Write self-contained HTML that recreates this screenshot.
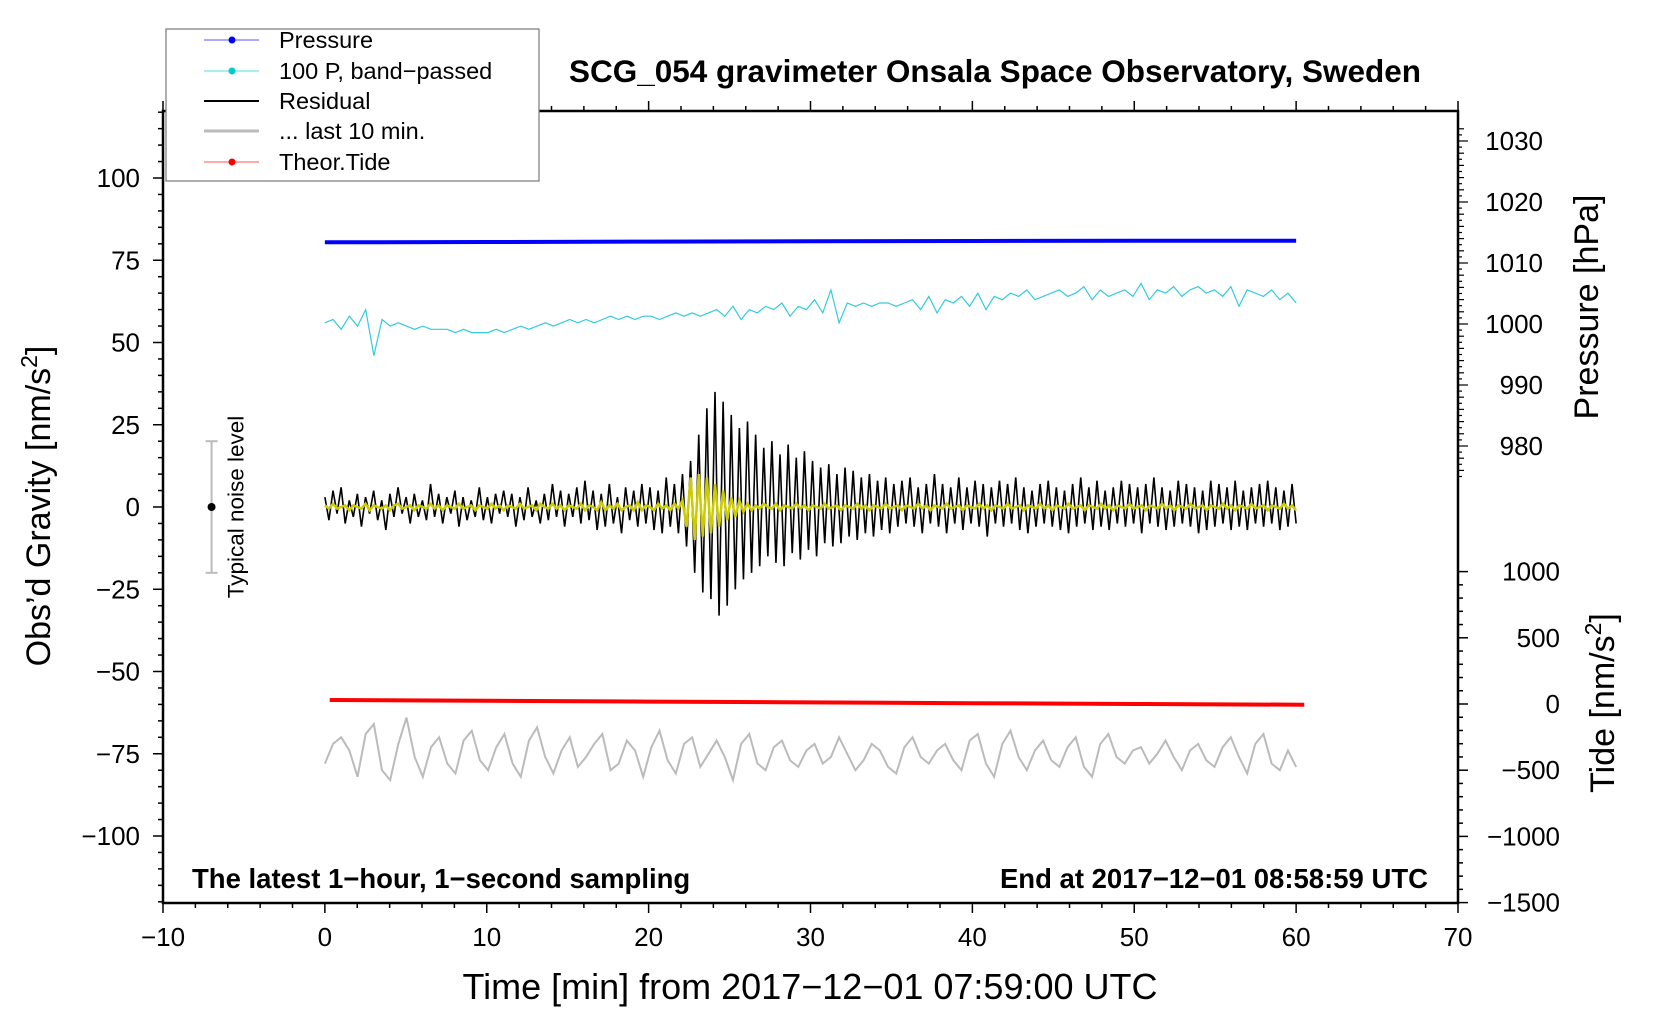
<!DOCTYPE html>
<html><head><meta charset="utf-8"><style>
body{margin:0;background:#fff;}
svg{display:block;font-family:"Liberation Sans",Arial,sans-serif;}
</style></head><body>
<svg id="chart" width="1660" height="1020" viewBox="0 0 1660 1020">
<defs><clipPath id="pc"><rect x="163" y="111" width="1295" height="792"/></clipPath></defs>
<rect x="163" y="111" width="1295" height="792" fill="#fff"/>
<g id="ticks"></g>
<g id="series" clip-path="url(#pc)"></g>
<rect x="163" y="111" width="1295" height="792" fill="none" stroke="#000" stroke-width="2.5"/>
<text x="995" y="82" text-anchor="middle" font-size="31.5" font-weight="bold">SCG_054 gravimeter Onsala Space Observatory, Sweden</text>
<text x="192" y="888" font-size="27.5" font-weight="bold">The latest 1−hour, 1−second sampling</text>
<text x="1428" y="888" text-anchor="end" font-size="27.5" font-weight="bold">End at 2017−12−01 08:58:59 UTC</text>
<text transform="translate(50,506) rotate(-90)" text-anchor="middle" font-size="34">Obs’d Gravity [nm/s<tspan dy="-13" font-size="23">2</tspan><tspan dy="13">]</tspan></text>
<text transform="translate(1598,307) rotate(-90)" text-anchor="middle" font-size="34">Pressure [hPa]</text>
<text transform="translate(1614,703) rotate(-90)" text-anchor="middle" font-size="34">Tide [nm/s<tspan dy="-13" font-size="23">2</tspan><tspan dy="13">]</tspan></text>
<text x="810" y="999" text-anchor="middle" font-size="36">Time [min] from 2017−12−01 07:59:00 UTC</text>
<g id="noise"></g>
<g>
<rect x="166" y="29" width="373" height="152" fill="#fff" stroke="#777" stroke-width="1.2"/>
<g><line x1="204" y1="40" x2="259" y2="40" stroke="#55f" stroke-width="1"/><circle cx="232" cy="40" r="3.5" fill="#00f"/><text x="279" y="48" font-size="23.5">Pressure</text></g>
<g><line x1="204" y1="71" x2="259" y2="71" stroke="#5dd" stroke-width="1"/><circle cx="232" cy="71" r="3.5" fill="#0cc"/><text x="279" y="79" font-size="23.5">100 P, band−passed</text></g>
<g><line x1="204" y1="101" x2="259" y2="101" stroke="#000" stroke-width="2"/><text x="279" y="109" font-size="23.5">Residual</text></g>
<g><line x1="204" y1="131" x2="259" y2="131" stroke="#bbb" stroke-width="3"/><text x="279" y="139" font-size="23.5">... last 10 min.</text></g>
<g><line x1="204" y1="162" x2="259" y2="162" stroke="#f55" stroke-width="1"/><circle cx="232" cy="162" r="3.5" fill="#f00"/><text x="279" y="170" font-size="23.5">Theor.Tide</text></g>
</g>
</svg>
<script>
const xTicks=[-10,0,10,20,30,40,50,60,70];
const gTicks=[-100,-75,-50,-25,0,25,50,75,100];
const pTicks=[980,990,1000,1010,1020,1030];
const tTicks=[-1500,-1000,-500,0,500,1000];
const pressureTimes=[0,10,20,30,40,50,60];
const pressureVals=[1013.4,1013.45,1013.5,1013.55,1013.6,1013.65,1013.65];
const tideTimes=[0.3,10,20,30,40,50,60.5];
const tideVals=[30,24,18,12,6,0,-5];
const residual=[3,-4,5,-2,6,-5,2,-3,4,-6,3,-2,5,-4,2,-7,4,-3,6,-2,3,-5,4,-3,2,-4,7,-3,4,-5,3,-2,5,-6,3,-4,2,-3,6,-4,
3,-5,4,-2,5,-3,4,-6,3,-4,6,-3,2,-5,4,-4,7,-3,5,-6,4,-3,6,-5,8,-4,5,-7,4,-6,7,-5,3,-8,6,-4,5,-6,7,-5,
6,-7,5,-8,9,-6,7,-8,
10,-12,14,-20,22,-26,30,-28,35,-33,32,-30,28,-25,24,-22,
26,-20,22,-18,18,-15,20,-17,16,-18,19,-14,15,-16,17,-13,14,-15,12,-11,13,-12,10,-11,12,-9,11,-10,9,-8,10,-9,8,-7,9,-8,
7,-6,8,-5,9,-6,6,-8,7,-5,10,-6,7,-8,6,-5,9,-7,6,-5,8,-6,7,-9,6,-5,8,-6,7,-5,9,-7,6,-8,5,-6,7,-5,8,-6,
6,-7,5,-8,7,-6,9,-5,6,-7,8,-6,5,-7,6,-5,8,-6,7,-5,6,-8,7,-5,9,-6,6,-7,5,-6,8,-5,7,-6,6,-8,5,-7,8,-6,
7,-5,6,-7,8,-6,5,-7,6,-5,7,-6,8,-5,6,-7,5,-6,7,-5];
const filtered=[0.5,-0.5,1,-0.5,0,0.5,-1,0.5,0,-0.5,1,-1,0.5,0,-0.5,0.5,-1,0.5,1,-0.5,0,0.5,-1,0.5,0,-0.5,1,-0.5,0.5,-1,
0.5,0,-0.5,1,-0.5,0,0.5,-1,0.5,0,-0.5,1,-0.5,0.5,-1,0.5,0,-0.5,1,-0.5,0,0.5,-1,1,0,-0.5,1,-0.5,0.5,-1,
0.5,0,-0.5,1,-1,0.5,0,-1,1.5,-1,0.5,-0.5,1,-1,0,0.5,-1,1.5,-1,0.5,0,-1,1,-0.5,0.5,-1,1,-0.5,
2,-6,9,-10,10,-9,9,-8,7,-6,5,-4,3,-3,2,-1.5,
1,-1,0.5,-0.5,1,0,-0.5,1,-1,0.5,0,-0.5,1,-0.5,0.5,-1,0.5,0,-0.5,1,-0.5,0,0.5,-1,0.5,0,-0.5,1,-0.5,0.5,
-1,0.5,0,-0.5,1,-0.5,0,0.5,-1,0.5,0,-0.5,1,-0.5,0.5,-1,0.5,0,-0.5,1,-0.5,0,0.5,-1,0.5,0,-0.5,1,-0.5,0.5,
-1,0.5,0,-0.5,1,-0.5,0,0.5,-1,0.5,0,-0.5,1,-0.5,0.5,-1,0.5,0,-0.5,1,-0.5,0,0.5,-1,0.5,0,-0.5,1,-0.5,0.5,
-1,0.5,0,-0.5,1,-0.5,0,0.5,-1,0.5,0,-0.5,1,-0.5,0.5,-1,0.5,0,-0.5,1,-0.5,0,0.5,-1,0.5,0,-0.5,1,-0.5,0.5,
-1,0.5,0,-0.5,1,-0.5,0,0.5,-1,0.5,0,-0.5,1,-0.5,0.5,-1];
const bandPassed=[56,57,54,58,55,60,46,57,55,56,55,54,55,54,54,54,53,54,53,53,
53,54,53,54,55,54,55,56,55,56,57,56,57,56,57,58,57,58,57,58,
58,57,58,59,58,59,58,59,60,58,61,57,60,59,61,60,62,58,61,60,
63,59,66,56,62,61,62,61,62,62,61,62,63,60,64,59,63,62,64,61,
65,60,64,63,65,64,66,63,64,65,66,64,65,67,63,66,64,65,66,64,
68,63,66,65,67,64,66,67,65,66,64,67,61,66,65,64,66,63,65,62];
const last10=[-78,-72,-70,-74,-82,-69,-66,-80,-83,-72,-64,-76,-82,-73,-70,-78,-81,-71,-68,-77,
-80,-73,-69,-78,-82,-71,-67,-76,-81,-74,-70,-79,-76,-72,-69,-80,-78,-71,-74,-82,
-73,-68,-77,-81,-72,-70,-79,-75,-71,-76,-83,-72,-69,-78,-80,-73,-71,-77,-79,-74,
-72,-78,-76,-70,-75,-80,-77,-72,-74,-79,-81,-73,-70,-76,-78,-74,-72,-77,-80,-71,
-69,-78,-82,-72,-68,-76,-80,-74,-71,-77,-79,-73,-70,-79,-82,-72,-69,-76,-78,-74,
-73,-78,-75,-71,-76,-80,-74,-72,-77,-79,-73,-70,-76,-81,-72,-69,-78,-80,-74,-79];

const NS='http://www.w3.org/2000/svg';
const X=t=>163+(t+10)*(1295/80);
const YG=v=>507-v*3.29;
const YP=p=>141+(1030-p)*6.1;
const YT=v=>704-v*0.1324;
function mk(tag,attrs,parent){const e=document.createElementNS(NS,tag);for(const k in attrs)e.setAttribute(k,attrs[k]);parent.appendChild(e);return e;}
const tk=document.getElementById('ticks'), se=document.getElementById('series'), nz=document.getElementById('noise');

for(let t=-10;t<=70;t+=2){const major=(t%10===0);
 let l=mk('line',{x1:X(t),x2:X(t),y1:903,y2:903+(major?10:5),stroke:'#000','stroke-width':1.5},tk);
 
 
 let l2=mk('line',{x1:X(t),x2:X(t),y1:111,y2:111-(major?10:5),stroke:'#000','stroke-width':1.5},tk);
 
 }
xTicks.forEach(t=>{const e=mk('text',{x:X(t),y:946,'text-anchor':'middle','font-size':26},tk);e.textContent=String(t).replace('-','−');
 
 });
for(let v=-120;v<=120;v+=5){const major=(v%25===0);
 const l=mk('line',{x1:163,x2:163-(major?10:5),y1:YG(v),y2:YG(v),stroke:'#000','stroke-width':1.5},tk);
 
 }
gTicks.forEach(v=>{const e=mk('text',{x:140,y:YG(v)+9,'text-anchor':'end','font-size':26},tk);e.textContent=String(v).replace('-','−');
 
 });
for(let p=975;p<=1032;p+=1){const major=(p%10===0);
 const l=mk('line',{x1:1458,x2:1458+(major?10:(p%2===0?6:4)),y1:YP(p),y2:YP(p),stroke:'#000','stroke-width':1.2},tk);
 
 }
pTicks.forEach(p=>{const e=mk('text',{x:1543,y:YP(p)+9,'text-anchor':'end','font-size':26},tk);e.textContent=p;
 
 });
for(let v=-1500;v<=1000;v+=100){const major=(v%500===0);
 const l=mk('line',{x1:1458,x2:1458+(major?10:5),y1:YT(v),y2:YT(v),stroke:'#000','stroke-width':1.5},tk);
 
 }
tTicks.forEach(v=>{const e=mk('text',{x:1560,y:YT(v)+9,'text-anchor':'end','font-size':26},tk);e.textContent=String(v).replace('-','−');
 
 });

function pts(times,vals,yf){return vals.map((v,i)=>X(times(i))+','+yf(v).toFixed(1)).join(' ');}
const lin=n=>i=>i*60/(n-1);
let s;
s=mk('polyline',{points:pts(i=>pressureTimes[i],pressureVals,YP),fill:'none',stroke:'#00f','stroke-width':4},se);


s=mk('polyline',{points:pts(lin(bandPassed.length),bandPassed,YG),fill:'none',stroke:'#3cd','stroke-width':1.2},se);


s=mk('polyline',{points:pts(lin(residual.length),residual,YG),fill:'none',stroke:'#000','stroke-width':1.6},se);


s=mk('polyline',{points:pts(lin(filtered.length),filtered,YG),fill:'none',stroke:'#cc0','stroke-width':2.5},se);


s=mk('polyline',{points:pts(i=>tideTimes[i],tideVals,YT),fill:'none',stroke:'#f00','stroke-width':4},se);


s=mk('polyline',{points:pts(lin(last10.length),last10,YG),fill:'none',stroke:'#bbb','stroke-width':2},se);



const nx=X(-7);
mk('line',{x1:nx,x2:nx,y1:YG(20),y2:YG(-20),stroke:'#bbb','stroke-width':2},nz);
mk('line',{x1:nx-6,x2:nx+6,y1:YG(20),y2:YG(20),stroke:'#bbb','stroke-width':2},nz);
mk('line',{x1:nx-6,x2:nx+6,y1:YG(-20),y2:YG(-20),stroke:'#bbb','stroke-width':2},nz);
mk('circle',{cx:nx,cy:YG(0),r:4,fill:'#000'},nz);
const nt=mk('text',{transform:`translate(${nx+32},${YG(0)}) rotate(-90)`,'text-anchor':'middle','font-size':22.5},nz);
nt.textContent='Typical noise level';


</script>
</body></html>
